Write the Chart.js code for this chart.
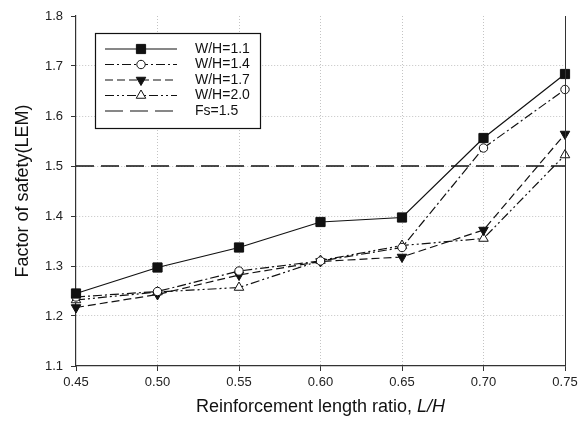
<!DOCTYPE html>
<html>
<head>
<meta charset="utf-8">
<script src="https://cdn.jsdelivr.net/npm/chart.js@4/dist/chart.umd.min.js"></script>
<style>
    html, body { margin: 0; padding: 0; background: #fff; }
    #wrap { width: 587px; height: 430px; }
</style>
</head>
<body>
<div id="wrap"><canvas id="chart"></canvas></div>
<script>
// ---------------------------------------------------------------------------
// Data
// ---------------------------------------------------------------------------

const lengthRatios = [0.45, 0.50, 0.55, 0.60, 0.65, 0.70, 0.75];
const fsWH11 = [1.245, 1.297, 1.337, 1.388, 1.397, 1.556, 1.684];
const fsWH14 = [1.238, 1.249, 1.290, 1.310, 1.337, 1.536, 1.653];
const fsWH17 = [1.217, 1.243, 1.282, 1.309, 1.318, 1.372, 1.564];
const fsWH20 = [1.232, 1.248, 1.257, 1.311, 1.341, 1.355, 1.522];
const fsLimit = 1.5;
const seriesLabels = ['W/H=1.1', 'W/H=1.4', 'W/H=1.7', 'W/H=2.0', 'Fs=1.5'];

const xTitle = 'Reinforcement length ratio, ';
const xTitleItalic = 'L/H';
const yTitle = 'Factor of safety(LEM)';

// ---------------------------------------------------------------------------
// Styling
// ---------------------------------------------------------------------------

const ink = '#111';
const axisColor = '#333';
const gridColor = '#c4c4c4';
const fontFamily = 'Arial, "Liberation Sans", sans-serif';

Chart.defaults.animation = false;
Chart.defaults.font.family = fontFamily;
Chart.defaults.color = '#222';

const toPoints = (ys) => ys.map((y, i) => ({ x: lengthRatios[i], y: y }));

function series(label, ys, dash, pointStyle, fill, rotation, radius) {
    return {
        label: label,
        data: toPoints(ys),
        borderColor: ink,
        borderWidth: 1.2,
        borderDash: dash,
        pointStyle: pointStyle,
        pointRotation: rotation,
        pointRadius: radius,
        pointBackgroundColor: fill,
        pointBorderColor: ink,
        pointBorderWidth: 1,
        tension: 0,
        clip: false
    };
}

const datasets = [
    series(seriesLabels[0], fsWH11, [], 'rect', ink, 0, 6.5),
    series(seriesLabels[1], fsWH14, [9, 3, 2, 3], 'circle', '#fff', 0, 4.2),
    series(seriesLabels[2], fsWH17, [8, 4], 'triangle', ink, 180, 5.5),
    series(seriesLabels[3], fsWH20, [9, 3, 2, 3, 2, 3], 'triangle', '#fff', 0, 5.5),
    {
        label: seriesLabels[4],
        data: [{ x: lengthRatios[0], y: fsLimit }, { x: lengthRatios[lengthRatios.length - 1], y: fsLimit }],
        borderColor: ink,
        borderWidth: 1.3,
        borderDash: [18, 7],
        pointRadius: 0,
        clip: false
    }
];

// ---------------------------------------------------------------------------
// Plugins
// ---------------------------------------------------------------------------

const framePlugin = {
    id: 'frame',
    afterDraw(chart) {
        const { ctx, chartArea } = chart;
        ctx.save();
        ctx.strokeStyle = axisColor;
        ctx.lineWidth = 1;
        ctx.beginPath();
        ctx.moveTo(chartArea.right + 0.5, chartArea.top);
        ctx.lineTo(chartArea.right + 0.5, chartArea.bottom);
        ctx.stroke();

        // x axis title with italic part
        ctx.fillStyle = ink;
        ctx.textBaseline = 'middle';
        ctx.font = '18px ' + fontFamily;
        const w1 = ctx.measureText(xTitle).width;
        ctx.font = 'italic 18px ' + fontFamily;
        const w2 = ctx.measureText(xTitleItalic).width;
        const x0 = (chartArea.left + chartArea.right) / 2 - (w1 + w2) / 2;
        ctx.font = '18px ' + fontFamily;
        ctx.textAlign = 'left';
        ctx.fillText(xTitle, x0, 407);
        ctx.font = 'italic 18px ' + fontFamily;
        ctx.fillText(xTitleItalic, x0 + w1, 407);
        ctx.restore();
    }
};

const legendPlugin = {
    id: 'boxLegend',
    afterDraw(chart) {
        const ctx = chart.ctx;
        const box = { x: 95, y: 33, w: 165, h: 95 };
        ctx.save();
        ctx.fillStyle = '#fff';
        ctx.fillRect(box.x, box.y, box.w, box.h);
        ctx.strokeStyle = ink;
        ctx.lineWidth = 1.2;
        ctx.strokeRect(box.x + 0.5, box.y + 0.5, box.w, box.h);

        chart.data.datasets.forEach((ds, i) => {
            const y = 49 + i * 15.5;
            ctx.strokeStyle = ink;
            ctx.lineWidth = 1.2;
            ctx.setLineDash(ds.borderDash || []);
            ctx.beginPath();
            ctx.moveTo(105, y);
            ctx.lineTo(177, y);
            ctx.stroke();
            ctx.setLineDash([]);
            if (ds.pointRadius > 0) {
                ctx.fillStyle = ds.pointBackgroundColor;
                ctx.strokeStyle = ds.pointBorderColor;
                ctx.lineWidth = 1;
                Chart.helpers.drawPoint(ctx, {
                    pointStyle: ds.pointStyle,
                    rotation: ds.pointRotation,
                    radius: ds.pointRadius,
                    borderWidth: 1
                }, 141, y);
            }
            ctx.fillStyle = ink;
            ctx.font = '14px ' + fontFamily;
            ctx.textAlign = 'left';
            ctx.textBaseline = 'middle';
            ctx.fillText(ds.label, 195, y);
        });
        ctx.restore();
    }
};

// ---------------------------------------------------------------------------
// Chart
// ---------------------------------------------------------------------------

const hideEnds = (c) => (c.index === 0 || c.index === c.chart.scales[c.scale.id].ticks.length - 1) ? 'rgba(0,0,0,0)' : gridColor;

new Chart(document.getElementById('chart'), {
    type: 'line',
    data: { datasets: datasets },
    options: {
        responsive: true,
        maintainAspectRatio: false,
        layout: { padding: { left: 0, right: 22, top: 16, bottom: 0 } },
        plugins: {
            legend: { display: false },
            tooltip: { enabled: false }
        },
        scales: {
            x: {
                type: 'linear',
                min: 0.45,
                max: 0.75,
                afterFit: (scale) => { scale.height = 64; },
                ticks: {
                    stepSize: 0.05,
                    padding: 4,
                    font: { size: 13 },
                    color: '#222',
                    callback: (v) => v.toFixed(2)
                },
                grid: {
                    color: hideEnds,
                    lineWidth: 1,
                    tickColor: axisColor,
                    tickLength: 5
                },
                border: { color: axisColor, width: 1.2, dash: [1, 2] }
            },
            y: {
                min: 1.1,
                max: 1.8,
                afterFit: (scale) => { scale.width = 76; },
                ticks: {
                    stepSize: 0.1,
                    padding: 8,
                    font: { size: 13 },
                    color: '#222',
                    callback: (v) => v.toFixed(1)
                },
                grid: {
                    color: hideEnds,
                    lineWidth: 1,
                    tickColor: axisColor,
                    tickLength: 5
                },
                border: { color: axisColor, width: 1.2, dash: [1, 2] },
                title: {
                    display: true,
                    text: yTitle,
                    color: ink,
                    font: { size: 18 },
                    padding: { top: 12, bottom: 0 }
                }
            }
        }
    },
    plugins: [framePlugin, legendPlugin]
});
</script>
</body>
</html>
